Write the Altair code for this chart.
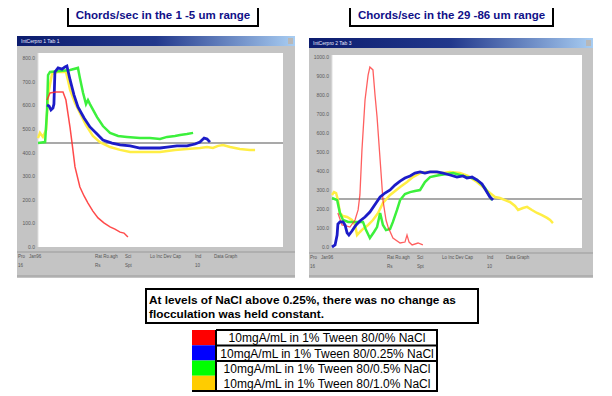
import altair as alt
import pandas as pd

# ---------------- data ----------------
# Left panel: chords/sec in the 1-5 um range (x: time, 0-100; y: counts)
L_red_x = [3.7, 4.9, 7.3, 10.2, 11.4, 12.2, 13.1, 13.9, 15.1, 17.1, 18.8, 20.4, 22.4, 24.5, 26.9, 29.4, 31.4, 33.5, 35.1, 36.7]
L_red_y = [622, 652, 656, 656, 622, 567, 504, 440, 339, 254, 216, 186, 152, 123, 102, 85, 76, 63, 59, 42]

L_grn_x = [0, 2.9, 3.7, 4.1, 4.9, 9.0, 13.1, 16.3, 17.1, 18.4, 19.6, 20.4, 21.2, 24.1, 26.5, 29.4, 32.7, 36.3, 41.6, 45.7, 49.8, 52.7, 55.9, 58.0, 60.8, 63.3]
L_grn_y = [440, 444, 580, 728, 741, 745, 749, 758, 715, 652, 605, 622, 605, 550, 512, 483, 470, 466, 461, 461, 457, 466, 470, 474, 478, 483]

L_blu_x = [3.7, 4.5, 5.3, 6.1, 6.5, 6.9, 8.2, 9.8, 11.0, 11.8, 13.1, 14.7, 16.3, 18.8, 21.2, 24.1, 26.5, 30.2, 33.5, 37.6, 41.6, 45.7, 49.8, 52.7, 56.7, 60.8, 64.1, 66.1, 67.8, 69.0, 70.2]
L_blu_y = [601, 597, 580, 588, 605, 741, 758, 753, 762, 766, 707, 643, 593, 546, 508, 478, 453, 440, 432, 428, 419, 419, 419, 423, 428, 428, 436, 444, 461, 457, 444]

L_yel_x = [0, 0.8, 2.0, 3.3, 4.1, 5.7, 8.2, 11.4, 12.2, 13.1, 15.1, 17.1, 19.6, 22.4, 25.3, 29.4, 33.5, 37.6, 43.7, 49.8, 55.9, 60.8, 66.1, 69.0, 71.4, 73.5, 75.5, 78.4, 82.4, 86.5, 88.6]
L_yel_y = [461, 483, 466, 495, 643, 732, 741, 741, 707, 665, 610, 567, 516, 470, 444, 423, 411, 402, 402, 402, 411, 415, 419, 423, 419, 428, 432, 423, 415, 411, 411]

L_ticks = [0, 100, 200, 300, 400, 500, 600, 700, 800]
L_ref = 440

# Right panel: chords/sec in the 29-86 um range
R_red_x = [2.3, 3.9, 5.5, 7.0, 9.0, 10.2, 10.9, 11.7, 12.9, 14.1, 14.8, 16.0, 16.8, 17.6, 18.8, 19.9, 21.1, 21.9, 23.8, 26.6, 28.5, 29.3, 30.1, 31.3, 33.6, 35.5]
R_red_y = [179, 116, 111, 105, 142, 195, 274, 511, 774, 905, 947, 932, 800, 684, 458, 247, 142, 105, 47, 21, 26, 63, 26, 11, 21, 11]

R_grn_x = [0, 2.0, 3.1, 4.3, 6.3, 8.2, 10.2, 12.1, 13.3, 14.8, 16.4, 17.6, 18.8, 19.9, 21.1, 22.7, 23.8, 25.4, 26.6, 28.5, 30.5, 32.4, 34.4, 36.3, 38.3, 40.2, 42.2, 44.9, 47.3, 50.0, 52.7, 54.7, 56.6, 57.8, 59.8, 60.9, 62.5]
R_grn_y = [258, 247, 179, 142, 132, 132, 132, 132, 89, 47, 79, 105, 179, 116, 89, 95, 132, 195, 247, 279, 289, 295, 300, 342, 368, 374, 379, 384, 389, 379, 368, 363, 353, 337, 311, 284, 247]

R_blu_x = [0, 1.2, 2.0, 2.3, 3.1, 4.3, 5.1, 5.9, 6.6, 7.8, 9.4, 10.9, 12.9, 14.8, 17.2, 18.8, 20.7, 22.7, 24.6, 26.6, 28.5, 30.5, 32.4, 34.4, 36.3, 38.3, 41.0, 43.4, 46.1, 48.8, 51.2, 52.7, 54.7, 56.6, 58.6, 60.5, 61.7, 62.9]
R_blu_y = [0, 11, 63, 121, 132, 132, 116, 74, 63, 84, 116, 137, 158, 184, 232, 263, 284, 300, 326, 347, 363, 374, 389, 395, 389, 395, 395, 389, 379, 368, 374, 363, 368, 353, 332, 289, 263, 247]

R_yel_x = [0, 0.8, 1.6, 2.3, 3.1, 4.3, 5.9, 7.8, 9.0, 9.8, 10.9, 12.1, 14.1, 16.0, 18.0, 19.9, 22.7, 26.6, 29.3, 31.6, 34.4, 37.1, 40.2, 43.4, 46.1, 50.0, 53.1, 56.6, 59.0, 61.7, 63.7, 65.6, 67.6, 69.5, 71.5, 72.7, 74.6, 76.2, 78.1, 80.1, 82.0, 84.0, 85.2, 86.3]
R_yel_y = [274, 289, 284, 247, 179, 163, 158, 142, 116, 63, 79, 95, 116, 142, 179, 232, 274, 316, 342, 368, 389, 395, 395, 389, 395, 389, 374, 342, 316, 284, 263, 258, 247, 237, 216, 195, 205, 211, 195, 179, 168, 153, 142, 126]

R_ticks = [0, 100, 200, 300, 400, 500, 600, 700, 800, 900, 1000]
R_ref = 253

titles = ["Chords/sec in the 1 -5 um range", "Chords/sec in the 29 -86 um range"]
note_lines = ["At levels of NaCl above 0.25%, there was no change as",
              "flocculation was held constant."]
legend_labels = ["10mgA/mL in 1% Tween 80/0% NaCl",
                 "10mgA/mL in 1% Tween 80/0.25% NaCl",
                 "10mgA/mL in 1% Tween 80/0.5% NaCl",
                 "10mgA/mL in 1% Tween 80/1.0% NaCl"]
legend_colors = ["#ff0000", "#0000ff", "#00ff00", "#ffcc00"]
line_colors = {"red": "#ff2a2a", "blue": "#1c1cc8", "green": "#3cf03c", "yellow": "#ffee44"}

# ---------------- helpers ----------------
W, H = 596, 388
FONT = "Liberation Sans"


def P(v):
    return v - 8  # page pixel -> chart pixel


one = pd.DataFrame({"a": [0]})


def box(x1, y1, x2, y2, **kw):
    return alt.Chart(one).mark_rect(**kw).encode(
        x=alt.value(P(x1)), x2=alt.value(P(x2)), y=alt.value(P(y1)), y2=alt.value(P(y2)))


def hline(x1, x2, y, color, w=1):
    return alt.Chart(one).mark_rule(color=color, strokeWidth=w).encode(
        x=alt.value(P(x1)), x2=alt.value(P(x2)), y=alt.value(P(y)))


def vline(x, y1, y2, color, w=1):
    return alt.Chart(one).mark_rule(color=color, strokeWidth=w).encode(
        x=alt.value(P(x)), y=alt.value(P(y1)), y2=alt.value(P(y2)))


def label(x, y, text, **kw):
    return alt.Chart(one).mark_text(text=text, font=FONT, **kw).encode(
        x=alt.value(P(x)), y=alt.value(P(y)))


def window(x1, y1, x2, y2, px1, py1, px2, py2, title):
    layers = [
        box(x1, y1, x2, y2, color="#c4c4c4"),
        box(x1, y1, x2, y1 + 10, color=alt.LinearGradient(
            gradient="linear", x1=0, x2=1, y1=0, y2=0,
            stops=[alt.GradientStop(color="#0c1c6e", offset=0),
                   alt.GradientStop(color="#22388c", offset=0.5),
                   alt.GradientStop(color="#a8cdf2", offset=1)])),
        box(x2 - 7, y1 + 2, x2 - 2, y1 + 8, color="#b8b8b8"),
        label(x1 + 4, y1 + 5, title, fontSize=5, color="#e8eaff", align="left", baseline="middle"),
        box(px1, py1, px2, py2, color="#ffffff"),
        vline(px1, py1, py2, "#e0e0e0"),
        hline(x1, x2, py2 + 5, "#9a9a9a"),
        hline(x1, x2, y2 - 2, "#9a9a9a"),
    ]
    sx = [x1 + 1, x1 + 12, x1 + 78, x1 + 108, x1 + 133, x1 + 178, x1 + 197]
    st = ["Pro", "Jan96", "Rat Ro.agh", "Sci", "Lo Inc Dev Cap", "Ind", "Data Graph"]
    for xx, tt in zip(sx, st):
        layers.append(label(xx, py2 + 10, tt, fontSize=4.5, color="#555555", align="left", baseline="middle"))
    for xx, tt in zip([x1 + 1, x1 + 78, x1 + 108, x1 + 178], ["16", "Rs", "Spt", "10"]):
        layers.append(label(xx, py2 + 19, tt, fontSize=4.5, color="#555555", align="left", baseline="middle"))
    return layers


def panel(series, ticks, ref, xs, ys, lab_x, ref_x1, ref_x2, fmt):
    layers = []
    tdf = pd.DataFrame({"v": ticks})
    layers.append(alt.Chart(tdf).mark_text(font=FONT, fontSize=5, color="#5a5a5a", align="right",
                                           baseline="middle").encode(
        y=alt.Y("v:Q", scale=ys, axis=None), x=alt.value(P(lab_x)), text=alt.Text("v:Q", format=fmt)))
    layers.append(alt.Chart(pd.DataFrame({"v": [ref]})).mark_rule(color="#8c8c8c", strokeWidth=1.5).encode(
        y=alt.Y("v:Q", scale=ys, axis=None), x=alt.value(P(ref_x1)), x2=alt.value(P(ref_x2))))
    for xv, yv, col, w, op in series:
        df = pd.DataFrame({"t": xv, "v": yv, "i": list(range(len(xv)))})
        layers.append(alt.Chart(df).mark_line(color=col, strokeWidth=w, opacity=op).encode(
            x=alt.X("t:Q", scale=xs, axis=None),
            y=alt.Y("v:Q", scale=ys, axis=None),
            order="i:Q"))
    return alt.layer(*layers)


# ---------------- left window ----------------
L_xs = alt.Scale(domain=[0, 100], range=[P(38), P(283)], nice=False, zero=False)
L_ys = alt.Scale(domain=[0, 800], range=[P(247), P(58)], nice=False)
left_panel = panel(
    [(L_yel_x, L_yel_y, line_colors["yellow"], 2.5, 1),
     (L_grn_x, L_grn_y, line_colors["green"], 2.5, 1),
     (L_blu_x, L_blu_y, line_colors["blue"], 2.8, 1),
     (L_red_x, L_red_y, line_colors["red"], 1.5, 0.85)],
    L_ticks, L_ref, L_xs, L_ys, 35, 38, 283, ".1f")

# ---------------- right window ----------------
R_xs = alt.Scale(domain=[0, 100], range=[P(332), P(588)], nice=False, zero=False)
R_ys = alt.Scale(domain=[0, 1000], range=[P(247), P(57)], nice=False)
right_panel = panel(
    [(R_yel_x, R_yel_y, line_colors["yellow"], 2.5, 1),
     (R_grn_x, R_grn_y, line_colors["green"], 2.5, 1),
     (R_red_x, R_red_y, line_colors["red"], 1.3, 0.75),
     (R_blu_x, R_blu_y, line_colors["blue"], 2.8, 1)],
    R_ticks, R_ref, R_xs, R_ys, 329, 332, 582, ".1f")

# ---------------- legend table ----------------
leg = pd.DataFrame({"row": list(range(4)), "label": legend_labels, "color": legend_colors})
leg_y = alt.Scale(domain=[0, 4], range=[P(330), P(391)], nice=False, zero=False)
legend_sw = alt.Chart(leg).mark_rect().transform_calculate(r2="datum.row + 1").encode(
    y=alt.Y("row:Q", scale=leg_y, axis=None), y2="r2:Q",
    x=alt.value(P(192)), x2=alt.value(P(216)),
    color=alt.Color("color:N", scale=None))
legend_tx = alt.Chart(leg).mark_text(font=FONT, fontSize=12, color="#000000", baseline="middle").transform_calculate(
    rc="datum.row + 0.55").encode(
    y=alt.Y("rc:Q", scale=leg_y, axis=None), x=alt.value(P(327)), text="label:N")
legend_layer = alt.layer(legend_sw, legend_tx)

# ---------------- assemble ----------------
decor = []
decor += window(17, 36, 295, 278, 38, 53, 283, 247, "IntCerpro 1 Tab 1")
decor += window(309, 38, 593, 278, 332, 55, 582, 248, "IntCerpro 2 Tab 3")
# title boxes
decor += [box(68, 5, 258, 26, color="#ffffff", stroke="#000000", strokeWidth=2),
          label(163, 16, titles[0], fontSize=11.5, fontWeight="bold", color="#101088", baseline="middle"),
          box(350, 5, 553, 26, color="#ffffff", stroke="#000000", strokeWidth=2),
          label(451.5, 16, titles[1], fontSize=11.5, fontWeight="bold", color="#101088", baseline="middle")]
# note box
decor += [box(146, 289, 478, 323, color="#ffffff", stroke="#000000", strokeWidth=2),
          label(149, 300, note_lines[0], fontSize=11.8, fontWeight="bold", color="#000000", align="left", baseline="middle"),
          label(149, 313.5, note_lines[1], fontSize=11.8, fontWeight="bold", color="#000000", align="left", baseline="middle")]

legend_frame = [
    hline(216, 438, 330, "#000000", 2),
    hline(216, 438, 345.5, "#000000", 2),
    hline(216, 438, 361, "#000000", 2),
    hline(192, 438, 391, "#000000", 2),
    vline(216, 330, 391, "#000000", 2),
    vline(437, 330, 391, "#000000", 2),
]

chart = alt.layer(*decor, left_panel, right_panel, legend_layer, *legend_frame).resolve_scale(
    x="independent", y="independent"
).properties(
    width=W, height=H, autosize=alt.AutoSizeParams(type="none"), padding=0, background="#ffffff"
).configure_view(stroke=None)

chart.save("out.html", embed_options={"renderer": "svg", "actions": False})
